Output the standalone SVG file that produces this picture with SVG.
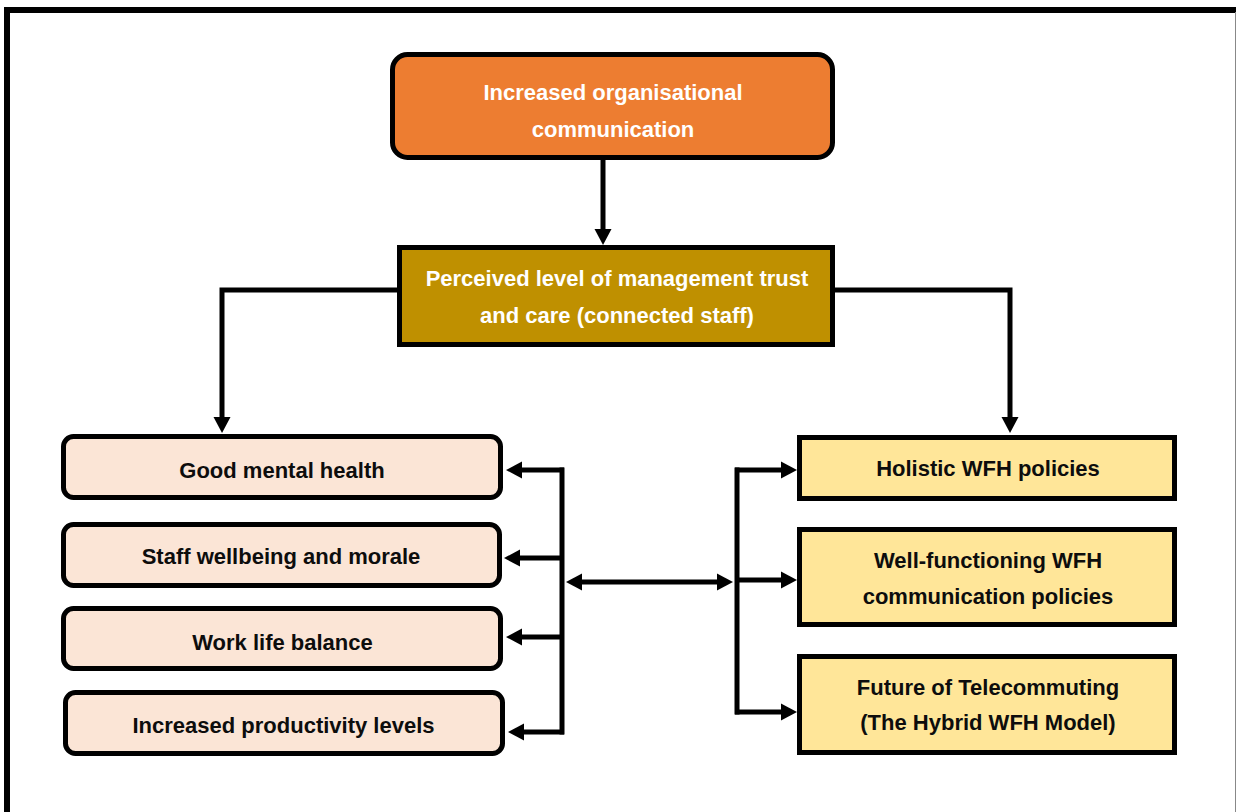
<svg xmlns="http://www.w3.org/2000/svg" width="1236" height="812" viewBox="0 0 1236 812">
  <style>
    .box { stroke: #000; stroke-width: 5; }
    .orange { fill: #ED7D31; }
    .gold { fill: #BF9000; }
    .pink { fill: #FBE5D6; }
    .yellow { fill: #FFE699; }
    .lbl { font-family: "Liberation Sans", Arial, sans-serif; font-weight: bold; font-size: 22px; text-anchor: middle; }
    .light { fill: #FFFFFF; }
    .dark { fill: #0D0D0D; }
    .wire { fill: none; stroke: #000; stroke-width: 5; stroke-linejoin: miter; }
  </style>
  <defs>
    <marker id="head" markerUnits="userSpaceOnUse" markerWidth="16" markerHeight="18" refX="1" refY="8.5" orient="auto" viewBox="0 0 16 17">
      <path d="M0,0 L16,8.5 L0,17 Z" fill="#000"/>
    </marker>
    <marker id="tail" markerUnits="userSpaceOnUse" markerWidth="16" markerHeight="18" refX="15" refY="8.5" orient="auto" viewBox="0 0 16 17">
      <path d="M16,0 L0,8.5 L16,17 Z" fill="#000"/>
    </marker>
  </defs>

  <rect width="1236" height="812" fill="#FFFFFF"/>

  <!-- page frame -->
  <path d="M7,812 V10 H1236" fill="none" stroke="#000" stroke-width="6"/>
  <line x1="1235.5" y1="12" x2="1235.5" y2="812" stroke="#888" stroke-width="1"/>

  <!-- connectors -->
  <g id="connectors">
    <line class="wire" x1="603" y1="160" x2="603" y2="230" marker-end="url(#head)"/>
    <path class="wire" d="M397,290 H222 V418" marker-end="url(#head)"/>
    <path class="wire" d="M835,290 H1010 V418" marker-end="url(#head)"/>

    <!-- left bus -->
    <line class="wire" x1="562" y1="467.5" x2="562" y2="734.5"/>
    <line class="wire" x1="564" y1="470" x2="521" y2="470" marker-end="url(#head)"/>
    <line class="wire" x1="564" y1="558" x2="519" y2="558" marker-end="url(#head)"/>
    <line class="wire" x1="564" y1="637" x2="521" y2="637" marker-end="url(#head)"/>
    <line class="wire" x1="564" y1="732" x2="523" y2="732" marker-end="url(#head)"/>

    <!-- link between buses -->
    <line class="wire" x1="581" y1="582" x2="718" y2="582" marker-start="url(#tail)" marker-end="url(#head)"/>

    <!-- right bus -->
    <line class="wire" x1="737" y1="467.5" x2="737" y2="714.5"/>
    <line class="wire" x1="735" y1="470" x2="782" y2="470" marker-end="url(#head)"/>
    <line class="wire" x1="735" y1="580" x2="782" y2="580" marker-end="url(#head)"/>
    <line class="wire" x1="735" y1="712" x2="782" y2="712" marker-end="url(#head)"/>
  </g>

  <g id="node-communication">
    <rect class="box orange" x="392.5" y="54.5" width="440" height="103" rx="15"/>
    <text class="lbl light" x="613" y="100">Increased organisational</text>
    <text class="lbl light" x="613" y="137">communication</text>
  </g>

  <g id="node-trust">
    <rect class="box gold" x="399.5" y="247.5" width="433" height="97"/>
    <text class="lbl light" x="617" y="286">Perceived level of management trust</text>
    <text class="lbl light" x="617" y="323">and care (connected staff)</text>
  </g>

  <g id="node-mental-health">
    <rect class="box pink" x="63.5" y="436.5" width="437" height="61" rx="10"/>
    <text class="lbl dark" x="282" y="478">Good mental health</text>
  </g>

  <g id="node-wellbeing">
    <rect class="box pink" x="63.5" y="524.5" width="436" height="61" rx="10"/>
    <text class="lbl dark" x="281" y="564">Staff wellbeing and morale</text>
  </g>

  <g id="node-work-life">
    <rect class="box pink" x="63.5" y="608.5" width="437" height="60" rx="10"/>
    <text class="lbl dark" x="282.5" y="650">Work life balance</text>
  </g>

  <g id="node-productivity">
    <rect class="box pink" x="65.5" y="692.5" width="437" height="61" rx="10"/>
    <text class="lbl dark" x="283.5" y="733">Increased productivity levels</text>
  </g>

  <g id="node-holistic">
    <rect class="box yellow" x="799.5" y="437.5" width="375" height="61"/>
    <text class="lbl dark" x="988" y="476">Holistic WFH policies</text>
  </g>

  <g id="node-communication-policies">
    <rect class="box yellow" x="799.5" y="529.5" width="375" height="95"/>
    <text class="lbl dark" x="988" y="568">Well-functioning WFH</text>
    <text class="lbl dark" x="988" y="604">communication policies</text>
  </g>

  <g id="node-telecommuting">
    <rect class="box yellow" x="799.5" y="656.5" width="375" height="96"/>
    <text class="lbl dark" x="988" y="695">Future of Telecommuting</text>
    <text class="lbl dark" x="988" y="730">(The Hybrid WFH Model)</text>
  </g>
</svg>
